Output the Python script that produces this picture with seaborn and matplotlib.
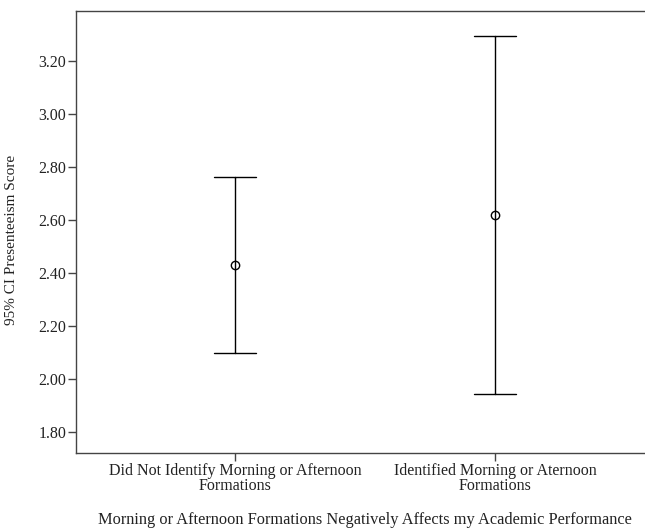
import numpy as np
import pandas as pd
import seaborn as sns
import matplotlib.pyplot as plt
from matplotlib.ticker import FormatStrFormatter

# Summary values (95% CI lower, mean, upper)
groups = ["Did Not Identify Morning or Afternoon\nFormations",
          "Identified Morning or Aternoon\nFormations"]
ci_lower = [2.099, 1.943]
means = [2.430, 2.619]
ci_upper = [2.762, 3.297]

# long table: median of each triple is the mean, min/max are the CI bounds
df = pd.DataFrame({
    "group": np.repeat(groups, 3),
    "score": np.ravel(np.column_stack([ci_lower, means, ci_upper])),
})

sns.set_style("ticks")
plt.rcParams["font.family"] = ["Liberation Serif", "DejaVu Serif"]

fig = plt.figure(figsize=(6.45, 5.29), dpi=100)
ax = fig.add_axes([76 / 645, (529 - 453) / 529, 1 - 76 / 645, (453 - 11) / 529])

sns.pointplot(data=df, x="group", y="score", estimator="median",
              errorbar=lambda v: (v.min(), v.max()), capsize=0.16,
              color="black", linestyle="none", marker="o", markersize=6,
              markerfacecolor="white", markeredgewidth=1,
              err_kws={"linewidth": 1}, ax=ax)

ax.set_xlim(-(235 - 76) / 260, (645 - 235) / 260)
ax.set_ylim(1.72, 3.39)
ax.set_yticks([1.8, 2.0, 2.2, 2.4, 2.6, 2.8, 3.0, 3.2])
ax.yaxis.set_major_formatter(FormatStrFormatter("%.2f"))

for side in ["left", "bottom", "top"]:
    ax.spines[side].set_color("#444444")
    ax.spines[side].set_linewidth(1)
ax.spines["right"].set_visible(False)
ax.tick_params(axis="both", length=6, width=1, color="#444444",
               labelsize=11.5, labelcolor="#222222", pad=1)
for lab in ax.get_xticklabels():
    lab.set_linespacing(0.95)

ax.set_ylabel("95% CI Presenteeism Score", fontsize=11, color="#222222")
ax.set_xlabel("Morning or Afternoon Formations Negatively Affects my Academic Performance",
              fontsize=11.8, color="#222222")
ax.yaxis.set_label_coords(-(76 - 18) / 569, (453 - 240) / 442)
ax.xaxis.set_label_coords((365 - 76) / 569, -(512 - 453) / 442)

fig.savefig("out.png", dpi=100)
